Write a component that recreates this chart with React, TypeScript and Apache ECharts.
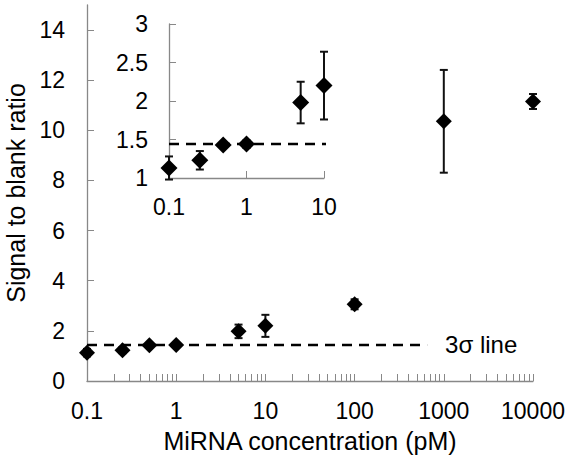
import React, { useEffect, useRef } from "react";
import * as echarts from "echarts";

const concentrations = [0.1, 0.25, 0.5, 1, 5, 10, 100, 1000, 10000];
const ratios = [1.13, 1.23, 1.43, 1.44, 1.98, 2.2, 3.06, 10.36, 11.15];
const errors = [0.15, 0.12, 0.03, 0.05, 0.27, 0.44, 0.2, 2.05, 0.3];
const insetCount = 6;
const threshold = 1.44;
const thresholdStart = 0.1;
const thresholdEndMain = 650;
const thresholdEndInset = 12;
const thresholdLabel = "3σ line";

const mainYTicks = [0, 2, 4, 6, 8, 10, 12, 14];
const mainXLabels = [0.1, 1, 10, 100, 1000, 10000];
const insetYLabels = [1, 1.5, 2, 2.5, 3];
const insetXLabels = [0.1, 1, 10];

const FONT = "'Liberation Sans', Arial, Helvetica, sans-serif";
const AXIS_COLOR = "#888888";

function minorLogTicks(from: number, to: number): number[] {
  const out: number[] = [];
  for (let d = from; d < to; d *= 10) {
    for (let k = 1; k < 10; k++) out.push(+(d * k).toPrecision(6));
  }
  out.push(to);
  return out;
}

const errorRender = (params: any, api: any) => {
  const x = api.value(0);
  const y = api.value(1);
  const e = api.value(2);
  const top = api.coord([x, y + e]);
  const bot = api.coord([x, y - e]);
  const cw = 4;
  const style = { stroke: "#111", lineWidth: 2 };
  return {
    type: "group",
    children: [
      { type: "line", shape: { x1: top[0], y1: top[1], x2: bot[0], y2: bot[1] }, style },
      { type: "line", shape: { x1: top[0] - cw, y1: top[1], x2: top[0] + cw, y2: top[1] }, style },
      { type: "line", shape: { x1: bot[0] - cw, y1: bot[1], x2: bot[0] + cw, y2: bot[1] }, style },
    ],
  };
};

const fmt = (v: number) => String(+Number(v).toPrecision(6));

export default function App() {
  const ref = useRef<HTMLDivElement>(null);
  useEffect(() => {
    if (!ref.current) return;
    const chart = echarts.init(ref.current, undefined, { renderer: "svg" });
    const all = concentrations.map((c, i) => [c, ratios[i], errors[i]]);
    const inset = all.slice(0, insetCount);
    const axisLine = { lineStyle: { color: AXIS_COLOR, width: 1.3 } };
    const label = { color: "#000", fontSize: 23, fontFamily: FONT };
    const dashed = { color: "#000", width: 2.5, type: [10, 7] };
    chart.setOption({
      animation: false,
      textStyle: { fontFamily: FONT },
      grid: [
        { left: 87, top: 5, width: 446, height: 376, outerBoundsMode: "none", containLabel: false },
        { left: 169, top: 24, width: 155, height: 154, outerBoundsMode: "none", containLabel: false },
      ],
      xAxis: [
        {
          type: "log",
          gridIndex: 0,
          logBase: 10,
          min: 0.1,
          max: 10000,
          axisLine,
          axisTick: {
            inside: true,
            length: 7,
            lineStyle: { color: AXIS_COLOR },
            customValues: minorLogTicks(0.1, 10000),
          },
          axisLabel: { ...label, margin: 18, customValues: mainXLabels, formatter: fmt },
          splitLine: { show: false },
          minorTick: { show: false },
          name: "MiRNA concentration (pM)",
          nameLocation: "middle",
          nameGap: 47,
          nameTextStyle: { color: "#000", fontSize: 25, fontFamily: FONT },
        },
        {
          type: "log",
          gridIndex: 1,
          logBase: 10,
          min: 0.1,
          max: 10,
          axisLine,
          axisTick: { inside: true, length: 7, lineStyle: { color: AXIS_COLOR }, customValues: insetXLabels },
          axisLabel: { ...label, margin: 17, customValues: insetXLabels, formatter: fmt },
          splitLine: { show: false },
        },
      ],
      yAxis: [
        {
          type: "value",
          gridIndex: 0,
          min: 0,
          max: 15,
          axisLine: { show: true, ...axisLine },
          axisTick: { show: true, inside: true, length: 7, lineStyle: { color: AXIS_COLOR }, customValues: mainYTicks },
          axisLabel: { ...label, margin: 22, customValues: mainYTicks },
          splitLine: { show: false },
          name: "Signal to blank ratio",
          nameLocation: "middle",
          nameGap: 53,
          nameTextStyle: { color: "#000", fontSize: 25, fontFamily: FONT },
        },
        {
          type: "value",
          gridIndex: 1,
          min: 1,
          max: 3,
          interval: 0.5,
          axisLine: { show: true, ...axisLine },
          axisTick: { show: true, inside: true, length: 7, lineStyle: { color: AXIS_COLOR }, customValues: insetYLabels },
          axisLabel: { ...label, margin: 21, customValues: insetYLabels },
          splitLine: { show: false },
        },
      ],
      series: [
        {
          type: "line",
          xAxisIndex: 0,
          yAxisIndex: 0,
          data: [[thresholdStart, threshold], [thresholdEndMain, threshold]],
          showSymbol: false,
          symbol: "none",
          lineStyle: dashed,
          itemStyle: { color: "#000" },
          clip: false,
          silent: true,
          z: 1,
          endLabel: {
            show: true,
            formatter: thresholdLabel,
            color: "#000",
            fontSize: 24,
            fontFamily: FONT,
            distance: 18,
          },
        },
        {
          type: "custom",
          xAxisIndex: 0,
          yAxisIndex: 0,
          renderItem: errorRender,
          data: all,
          encode: { x: 0, y: 1 },
          z: 2,
        },
        {
          type: "scatter",
          xAxisIndex: 0,
          yAxisIndex: 0,
          symbol: "diamond",
          symbolSize: [16, 16],
          itemStyle: { color: "#000", opacity: 1 },
          data: all.map((d) => [d[0], d[1]]),
          z: 3,
        },
        {
          type: "line",
          xAxisIndex: 1,
          yAxisIndex: 1,
          data: [[thresholdStart, threshold], [thresholdEndInset, threshold]],
          showSymbol: false,
          symbol: "none",
          lineStyle: dashed,
          itemStyle: { color: "#000" },
          clip: false,
          silent: true,
          z: 1,
        },
        {
          type: "custom",
          xAxisIndex: 1,
          yAxisIndex: 1,
          renderItem: errorRender,
          data: inset,
          encode: { x: 0, y: 1 },
          z: 2,
        },
        {
          type: "scatter",
          xAxisIndex: 1,
          yAxisIndex: 1,
          symbol: "diamond",
          symbolSize: [17, 17],
          itemStyle: { color: "#000", opacity: 1 },
          data: inset.map((d) => [d[0], d[1]]),
          z: 3,
        },
      ],
    });
    return () => chart.dispose();
  }, []);
  return <div ref={ref} style={{ position: "fixed", left: 0, top: 0, width: 574, height: 461, background: "#fff" }} />;
}
